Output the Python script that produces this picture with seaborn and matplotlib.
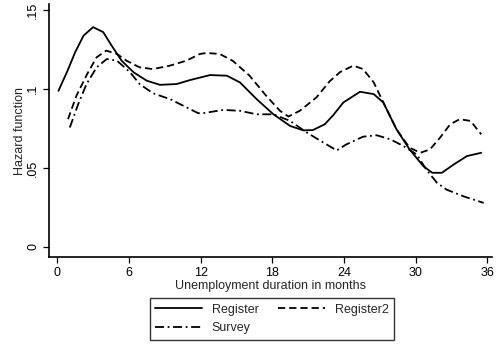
import numpy as np
import pandas as pd
import matplotlib
matplotlib.use("Agg")
import matplotlib.pyplot as plt
import seaborn as sns

# Data
reg_month = [0.1, 0.8, 1.5, 2.2, 3.0, 3.85, 4.55, 5.4, 6.4, 7.5, 8.6, 10.0, 11.1, 12.0,
             12.8, 14.2, 15.3, 16.7, 18.1, 19.5, 20.6, 21.4, 22.4, 23.1, 23.95, 25.35,
             26.5, 27.3, 28.4, 29.5, 30.65, 31.4, 32.2, 33.2, 34.3, 35.5]
reg_haz = [0.099, 0.1107, 0.1235, 0.134, 0.1394, 0.1362, 0.1277, 0.118, 0.1107, 0.1054,
           0.1028, 0.1033, 0.1058, 0.1075, 0.109, 0.1086, 0.1043, 0.0937, 0.0841, 0.0767,
           0.0739, 0.0741, 0.0778, 0.0835, 0.0916, 0.0984, 0.0969, 0.0916, 0.0746, 0.0618,
           0.0512, 0.047, 0.047, 0.0523, 0.0576, 0.0597]

reg2_month = [0.9, 1.6, 2.5, 3.3, 4.1, 5.0, 5.8, 6.9, 8.0, 9.4, 10.8, 11.95, 12.5, 13.6,
              14.7, 16.1, 17.5, 18.65, 19.35, 20.3, 21.7, 22.8, 23.7, 24.8, 25.6, 26.5,
              27.3, 28.4, 29.5, 30.4, 31.2, 32.05, 32.9, 33.7, 34.6, 35.5]
reg2_haz = [0.081, 0.0958, 0.1096, 0.1203, 0.1245, 0.1224, 0.1181, 0.1139, 0.1128, 0.1149,
            0.1181, 0.1224, 0.123, 0.1224, 0.118, 0.1086, 0.0958, 0.0863, 0.0827, 0.0863,
            0.0948, 0.105, 0.111, 0.115, 0.1128, 0.1043, 0.0916, 0.0746, 0.0629, 0.0597,
            0.0618, 0.0693, 0.0778, 0.081, 0.0799, 0.0714]

surv_month = [1.05, 1.75, 2.45, 3.3, 4.15, 5.0, 6.1, 6.9, 8.0, 9.45, 10.85, 11.8, 12.2,
              13.9, 15.3, 16.7, 18.1, 19.5, 20.9, 22.3, 23.4, 24.2, 25.6, 26.75, 27.9,
              29.0, 30.1, 30.9, 31.8, 32.6, 34.0, 35.7]
surv_haz = [0.0757, 0.0905, 0.1033, 0.1139, 0.1192, 0.1181, 0.1107, 0.1033, 0.0975, 0.0937,
            0.0884, 0.0848, 0.0848, 0.0869, 0.0863, 0.0841, 0.0841, 0.0799, 0.0725, 0.0661,
            0.0612, 0.065, 0.0699, 0.0708, 0.0682, 0.0639, 0.0586, 0.049, 0.0406, 0.0363,
            0.0321, 0.0279]

series_names = ["Register", "Register2", "Survey"]
x_ticks = [0, 6, 12, 18, 24, 30, 36]
y_ticks = [0, 0.05, 0.1, 0.15]
y_tick_labels = ["0", ".05", ".1", ".15"]

df = pd.concat([
    pd.DataFrame({"month": reg_month, "hazard": reg_haz, "series": series_names[0]}),
    pd.DataFrame({"month": reg2_month, "hazard": reg2_haz, "series": series_names[1]}),
    pd.DataFrame({"month": surv_month, "hazard": surv_haz, "series": series_names[2]}),
], ignore_index=True)

sns.set_style("ticks")
plt.rcParams["font.family"] = ["Liberation Sans", "DejaVu Sans"]

fig = plt.figure(figsize=(4.99, 3.44), dpi=100)
ax = fig.add_axes([0.098, 0.253, 0.888, 0.735])

sns.lineplot(data=df, x="month", y="hazard", style="series", style_order=series_names,
             dashes={"Register": "", "Register2": (4.0, 2.2), "Survey": (5, 2, 1, 2)},
             color="black", linewidth=1.3, ax=ax, sort=False, estimator=None)

ax.set_xlim(-0.7, 36.4)
ax.set_ylim(-0.0064, 0.154)
ax.set_xticks(x_ticks)
ax.set_xticklabels([str(t) for t in x_ticks])
ax.set_yticks(y_ticks)
ax.set_yticklabels(y_tick_labels, rotation=90, va="center")
ax.tick_params(axis="both", labelsize=9, length=4, width=0.9, colors="black", direction="out", pad=3)
for s in ["left", "bottom"]:
    ax.spines[s].set_linewidth(1.2)
    ax.spines[s].set_color("black")
sns.despine(ax=ax)

ax.set_xlabel("Unemployment duration in months", fontsize=9, labelpad=1)
ax.set_ylabel("Hazard function", fontsize=9, labelpad=1)

leg = ax.get_legend()
if leg is not None:
    leg.remove()
handles, labels = ax.get_legend_handles_labels()
hmap = dict(zip(labels, handles))
order = ["Register", "Survey", "Register2"]
lg = fig.legend([hmap[k] for k in order], order, loc="center", bbox_to_anchor=(0.545, 0.0727),
                bbox_transform=fig.transFigure, ncol=2, fontsize=9, frameon=True,
                fancybox=False, handlelength=3.7, columnspacing=1.6, handletextpad=0.8,
                borderpad=0.45, labelspacing=0.5, borderaxespad=0)
lg.get_frame().set_edgecolor("black")
lg.get_frame().set_linewidth(1.0)

fig.savefig("out.png", dpi=100)
